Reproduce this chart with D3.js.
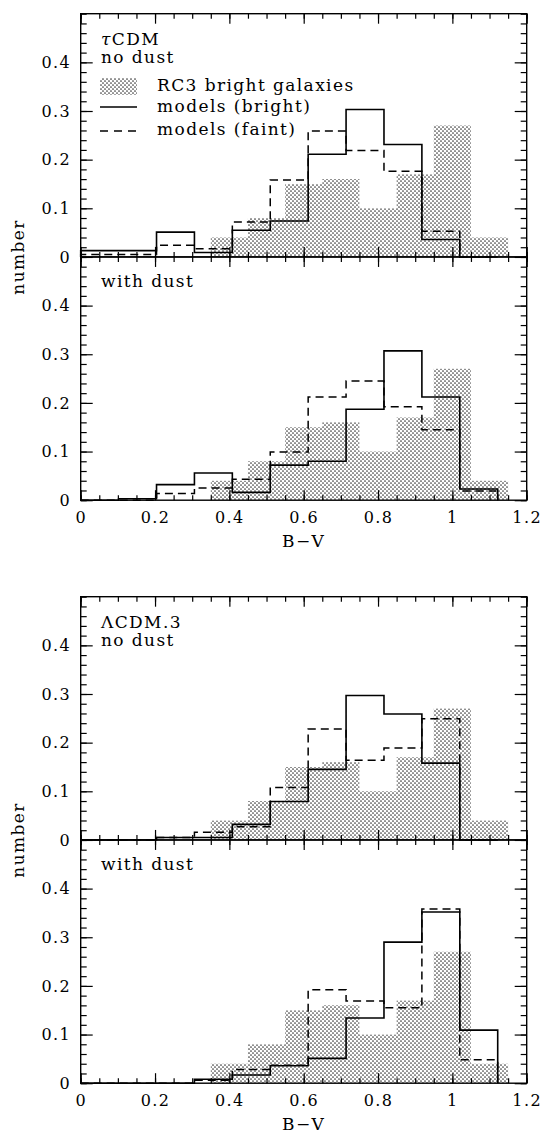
<!DOCTYPE html>
<html><head><meta charset="utf-8">
<script src="https://cdn.jsdelivr.net/npm/d3@7"></script>
<style>body{margin:0;background:#fff}svg{display:block}</style>
</head><body>
<svg id="c" width="541" height="1136"></svg>
<script>
// ---- data ----
const modelEdges = [0, 0.102, 0.204, 0.306, 0.408, 0.51, 0.612, 0.714, 0.816, 0.918, 1.02, 1.122];
const rc3Edges = [0.35, 0.45, 0.55, 0.65, 0.75, 0.85, 0.95, 1.05, 1.15];
const rc3Values = [0.04, 0.08, 0.15, 0.16, 0.10, 0.17, 0.27, 0.04];

const tauNoDustBright = [0.013, 0.013, 0.051, 0.009, 0.055, 0.074, 0.211, 0.303, 0.231, 0.036, 0];
const tauNoDustFaint  = [0.005, 0.005, 0.024, 0.017, 0.072, 0.158, 0.259, 0.219, 0.176, 0.053, 0];
const tauDustBright   = [0, 0.003, 0.032, 0.056, 0.016, 0.072, 0.080, 0.187, 0.307, 0.212, 0.023];
const tauDustFaint    = [0, 0, 0.014, 0.025, 0.043, 0.099, 0.212, 0.245, 0.192, 0.145, 0.019];
const lamNoDustBright = [0, 0, 0.005, 0.005, 0.032, 0.079, 0.145, 0.297, 0.259, 0.158, 0];
const lamNoDustFaint  = [0, 0, 0.005, 0.016, 0.027, 0.108, 0.228, 0.164, 0.189, 0.249, 0];
const lamDustBright   = [0, 0, 0, 0.008, 0.017, 0.036, 0.051, 0.134, 0.290, 0.352, 0.109];
const lamDustFaint    = [0, 0, 0, 0.006, 0.028, 0.037, 0.192, 0.169, 0.155, 0.358, 0.048];

const xMajorTicks = [0, 0.2, 0.4, 0.6, 0.8, 1, 1.2];
const xMinorTicks = [0,0.05,0.1,0.15,0.2,0.25,0.3,0.35,0.4,0.45,0.5,0.55,0.6,0.65,0.7,0.75,0.8,0.85,0.9,0.95,1,1.05,1.1,1.15,1.2];
const yMajorTicks = [0, 0.1, 0.2, 0.3, 0.4];
const yMinorTicks = [0,0.02,0.04,0.06,0.08,0.1,0.12,0.14,0.16,0.18,0.2,0.22,0.24,0.26,0.28,0.3,0.32,0.34,0.36,0.38,0.4,0.42,0.44,0.46,0.48,0.5];

const legendLabels = ["RC3 bright galaxies", "models (bright)", "models (faint)"];
const xLabel = "B\u2212V";
const yLabel = "number";

// ---- layout ----
const FONT = "'DejaVu Serif', serif";
const XL = 80.7, XR = 526.7;
const PH = 243.25;
const svg = d3.select("#c");
const x = d3.scaleLinear([0, 1.2], [XL, XR]);

const defs = svg.append("defs");
const pat = defs.append("pattern").attr("id", "stip").attr("patternUnits", "userSpaceOnUse")
  .attr("width", 4).attr("height", 4);
pat.append("rect").attr("width", 4).attr("height", 4).attr("fill", "#fff");
pat.append("circle").attr("cx", 1).attr("cy", 1).attr("r", 0.85).attr("fill", "#3a3a3a");
pat.append("circle").attr("cx", 3).attr("cy", 3).attr("r", 0.85).attr("fill", "#3a3a3a");

const panels = [
  {top: 13.7, titles: [["τ", "CDM"], [null, "no dust"]], legend: true, bright: tauNoDustBright, faint: tauNoDustFaint, bottom: false},
  {top: 13.7 + PH, titles: [[null, "with dust"]], bright: tauDustBright, faint: tauDustFaint, bottom: true},
  {top: 596.7, titles: [[null, "ΛCDM.3"], [null, "no dust"]], bright: lamNoDustBright, faint: lamNoDustFaint, bottom: false},
  {top: 596.7 + PH, titles: [[null, "with dust"]], bright: lamDustBright, faint: lamDustFaint, bottom: true}
];

function stepPoints(edges, vals) {
  const pts = [[edges[0], 0]];
  vals.forEach((v, i) => { pts.push([edges[i], v]); pts.push([edges[i + 1], v]); });
  pts.push([edges[vals.length], 0]);
  return pts;
}
function areaPoints(edges, vals) {
  const pts = [];
  vals.forEach((v, i) => { pts.push([edges[i], v]); pts.push([edges[i + 1], v]); });
  return pts;
}
const fmtY = d => d === 0 ? "0" : d.toFixed(1);
const fmtX = d => String(+d.toFixed(1));

function styleText(sel, size) {
  sel.attr("font-family", FONT).attr("font-size", size).attr("letter-spacing", 1.4).attr("fill", "#000");
}

panels.forEach(p => {
  const y = d3.scaleLinear([0, 0.5], [p.top + PH, p.top]);
  const g = svg.append("g");
  g.append("path").datum(areaPoints(rc3Edges, rc3Values))
    .attr("d", d3.area().x(d => x(d[0])).y0(y(0)).y1(d => y(d[1])))
    .attr("fill", "url(#stip)");
  const line = d3.line().x(d => x(d[0])).y(d => y(d[1]));
  g.append("path").datum(stepPoints(modelEdges, p.faint)).attr("d", line)
    .attr("fill", "none").attr("stroke", "#000").attr("stroke-width", 1.5).attr("stroke-dasharray", "8,5");
  g.append("path").datum(stepPoints(modelEdges, p.bright)).attr("d", line)
    .attr("fill", "none").attr("stroke", "#000").attr("stroke-width", 1.6);

  const yl = g.append("g").attr("transform", `translate(${XL},0)`)
    .call(d3.axisLeft(y).tickValues(yMajorTicks).tickSize(-12).tickPadding(9.5).tickFormat(fmtY));
  yl.select(".domain").remove();
  styleText(yl.selectAll("text"), 16);
  const ylm = g.append("g").attr("transform", `translate(${XL},0)`)
    .call(d3.axisLeft(y).tickValues(yMinorTicks).tickSize(-6).tickFormat(""));
  ylm.select(".domain").remove();
  const yr = g.append("g").attr("transform", `translate(${XR},0)`)
    .call(d3.axisRight(y).tickValues(yMajorTicks).tickSize(-12).tickFormat(""));
  yr.select(".domain").remove();
  const yrm = g.append("g").attr("transform", `translate(${XR},0)`)
    .call(d3.axisRight(y).tickValues(yMinorTicks).tickSize(-6).tickFormat(""));
  yrm.select(".domain").remove();

  [[d3.axisTop, p.top], [d3.axisBottom, p.top + PH]].forEach(([ax, yy]) => {
    const a = g.append("g").attr("transform", `translate(0,${yy})`)
      .call(ax(x).tickValues(xMajorTicks).tickSize(-10).tickFormat(""));
    a.select(".domain").remove();
    const b = g.append("g").attr("transform", `translate(0,${yy})`)
      .call(ax(x).tickValues(xMinorTicks).tickSize(-5).tickFormat(""));
    b.select(".domain").remove();
  });
  if (p.bottom) {
    const lab = g.append("g").attr("transform", `translate(0,${p.top + PH})`)
      .call(d3.axisBottom(x).tickValues(xMajorTicks).tickSize(0).tickPadding(11).tickFormat(fmtX));
    lab.select(".domain").remove();
    styleText(lab.selectAll("text"), 16);
    const t = g.append("text").attr("x", x(0.6)).attr("y", p.top + PH + 47)
      .attr("text-anchor", "middle").text(xLabel);
    styleText(t, 17);
  }
  g.selectAll(".tick line").attr("stroke", "#000").attr("stroke-width", 1.2);

  g.append("rect").attr("x", XL).attr("y", p.top).attr("width", XR - XL).attr("height", PH)
    .attr("fill", "none").attr("stroke", "#000").attr("stroke-width", 1.4);

  const base = p.titles.length === 2 ? [31, 49] : [30];
  p.titles.forEach((tt, i) => {
    const t = g.append("text").attr("x", 101).attr("y", p.top + base[i]);
    styleText(t, 17);
    if (tt[0]) t.append("tspan").attr("font-style", "italic").text(tt[0]);
    t.append("tspan").text(tt[1]);
  });

  if (p.legend) {
    const lg = g.append("g");
    lg.append("rect").attr("x", 100).attr("y", 78).attr("width", 37).attr("height", 17).attr("fill", "url(#stip)");
    lg.append("line").attr("x1", 100).attr("x2", 137).attr("y1", 107).attr("y2", 107)
      .attr("stroke", "#000").attr("stroke-width", 1.6);
    lg.append("line").attr("x1", 100).attr("x2", 137).attr("y1", 131).attr("y2", 131)
      .attr("stroke", "#000").attr("stroke-width", 1.5).attr("stroke-dasharray", "8,6");
    const ys = [91, 112, 135];
    legendLabels.forEach((s, i) => {
      const t = lg.append("text").attr("x", 157).attr("y", ys[i]).text(s);
      styleText(t, 17);
    });
  }
});

[256.95, 839.95].forEach(cy => {
  const t = svg.append("text").attr("transform", `translate(24,${cy}) rotate(-90)`)
    .attr("text-anchor", "middle").text(yLabel);
  styleText(t, 17);
});
</script>
</body></html>
